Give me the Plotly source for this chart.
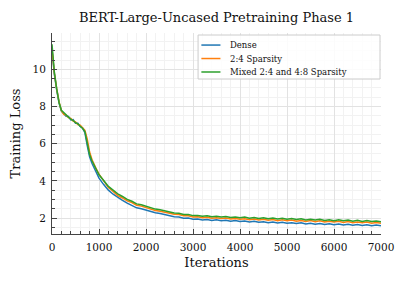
import plotly.graph_objects as go

iterations = [0, 25, 50, 100, 150, 200, 250, 300, 350, 400, 450, 500, 550, 600, 650, 700,
              750, 800, 850, 900, 950, 1000,
              1100, 1200, 1300, 1400, 1500, 1600, 1700, 1800, 1900, 2000,
              2100, 2200, 2300, 2400, 2500, 2600, 2700, 2800, 2900, 3000,
              3100, 3200, 3300, 3400, 3500, 3600, 3700, 3800, 3900, 4000,
              4100, 4200, 4300, 4400, 4500, 4600, 4700, 4800, 4900, 5000,
              5100, 5200, 5300, 5400, 5500, 5600, 5700, 5800, 5900, 6000,
              6100, 6200, 6300, 6400, 6500, 6600, 6700, 6800, 6900, 7000]

dense = [11.05, 10.35, 9.75, 8.9, 8.2, 7.75, 7.62, 7.48, 7.47, 7.28, 7.3, 7.1, 7.1, 6.93, 6.84, 6.6,
         5.9, 5.3, 4.95, 4.66, 4.38, 4.15,
         3.8, 3.5, 3.28, 3.1, 2.95, 2.8, 2.68, 2.55, 2.5, 2.42,
         2.37, 2.28, 2.24, 2.17, 2.14, 2.07, 2.06, 1.99, 2.0, 1.94,
         1.95, 1.9, 1.92, 1.87, 1.9, 1.85, 1.88, 1.83, 1.86, 1.81,
         1.84, 1.79, 1.82, 1.77, 1.8, 1.75, 1.79, 1.73, 1.77, 1.72,
         1.75, 1.7, 1.74, 1.68, 1.72, 1.67, 1.71, 1.65, 1.69, 1.64,
         1.68, 1.62, 1.66, 1.61, 1.65, 1.6, 1.64, 1.58, 1.62, 1.58]

sparse24 = [11.1, 10.4, 9.8, 8.95, 8.25, 7.78, 7.58, 7.54, 7.4, 7.36, 7.22, 7.17, 7.03, 7.0, 6.84, 6.72,
            6.25, 5.55, 5.15, 4.85, 4.6, 4.36,
            3.98, 3.64, 3.43, 3.21, 3.08, 2.93, 2.83, 2.69, 2.64, 2.55,
            2.49, 2.41, 2.37, 2.3, 2.27, 2.2, 2.19, 2.12, 2.12, 2.06,
            2.07, 2.02, 2.04, 1.99, 2.02, 1.97, 2.0, 1.95, 1.98, 1.94,
            1.96, 1.91, 1.95, 1.89, 1.93, 1.88, 1.92, 1.86, 1.9, 1.85,
            1.89, 1.83, 1.87, 1.82, 1.86, 1.8, 1.85, 1.79, 1.83, 1.78,
            1.82, 1.76, 1.81, 1.75, 1.79, 1.74, 1.78, 1.72, 1.76, 1.72]

mixed = [11.35, 10.5, 9.85, 8.95, 8.22, 7.8, 7.66, 7.52, 7.43, 7.32, 7.25, 7.13, 7.07, 6.94, 6.83, 6.66,
         6.05, 5.42, 5.08, 4.8, 4.55, 4.33,
         4.02, 3.7, 3.5, 3.3, 3.16, 3.0, 2.9, 2.76, 2.71, 2.62,
         2.56, 2.48, 2.44, 2.37, 2.34, 2.27, 2.26, 2.19, 2.19, 2.13,
         2.14, 2.09, 2.12, 2.07, 2.1, 2.05, 2.08, 2.03, 2.06, 2.02,
         2.05, 1.99, 2.03, 1.98, 2.02, 1.96, 2.0, 1.95, 1.99, 1.93,
         1.97, 1.92, 1.96, 1.9, 1.94, 1.89, 1.93, 1.87, 1.91, 1.86,
         1.9, 1.85, 1.89, 1.83, 1.88, 1.82, 1.86, 1.81, 1.84, 1.8]

names = ["Dense", "2:4 Sparsity", "Mixed 2:4 and 4:8 Sparsity"]
values = [dense, sparse24, mixed]
colors = ["#1f77b4", "#ff7f0e", "#2ca02c"]

FONT = "DejaVu Serif"
TXT = "#111111"

fig = go.Figure()
for name, vals, color in zip(names, values, colors):
    fig.add_trace(go.Scatter(x=iterations, y=vals, mode="lines", name=name,
                             line=dict(color=color, width=1.5), showlegend=False))

axis_common = dict(
    showline=True, linecolor="#444444", linewidth=1, mirror=False,
    ticks="inside", ticklen=5, tickcolor="#444444", tickwidth=1,
    showgrid=True, gridcolor="#e2e2e2", gridwidth=1, zeroline=False,
    tickfont=dict(family=FONT, size=10.5, color=TXT),
    automargin=False,
)

fig.update_xaxes(range=[0, 7000], dtick=1000, tick0=0, ticklabelstandoff=3,
                 title=dict(text="Iterations", font=dict(family=FONT, size=13, color=TXT), standoff=6),
                 minor=dict(dtick=200, ticks="inside", ticklen=3, tickcolor="#444444",
                            showgrid=True, gridcolor="#f2f2f2"),
                 **axis_common)
fig.update_yaxes(range=[1.14, 11.96], dtick=2, tick0=0, ticklabelstandoff=3,
                 title=dict(text="Training Loss", font=dict(family=FONT, size=13, color=TXT), standoff=8),
                 minor=dict(dtick=0.5, ticks="inside", ticklen=3, tickcolor="#444444",
                            showgrid=True, gridcolor="#f2f2f2"),
                 **axis_common)

# Manual legend (matplotlib-style compact box)
shapes = [dict(type="rect", xref="paper", yref="paper", x0=0.444, x1=0.997, y0=0.771, y1=0.990,
               line=dict(color="#cccccc", width=1), fillcolor="rgba(255,255,255,0.85)", layer="above")]
annotations = []
entry_y = [0.940, 0.873, 0.806]
for name, color, yy in zip(names, colors, entry_y):
    shapes.append(dict(type="line", xref="paper", yref="paper", x0=0.454, x1=0.512, y0=yy, y1=yy,
                       line=dict(color=color, width=1.5), layer="above"))
    annotations.append(dict(text=name, xref="paper", yref="paper", x=0.534, y=yy,
                            xanchor="left", yanchor="middle", showarrow=False,
                            font=dict(family=FONT, size=8.5, color=TXT)))

fig.update_layout(
    width=407, height=286,
    margin=dict(l=52, r=26, t=33, b=52),
    paper_bgcolor="white", plot_bgcolor="white",
    title=dict(text="BERT-Large-Uncased Pretraining Phase 1", x=0.5, xref="paper",
               y=1 - 17 / 286, yref="container", yanchor="middle",
               font=dict(family=FONT, size=13, color=TXT)),
    shapes=shapes, annotations=annotations,
)

fig.write_html("out.html", config={"displayModeBar": False},
               post_script="document.body.style.margin='0';document.body.style.padding='0';")
